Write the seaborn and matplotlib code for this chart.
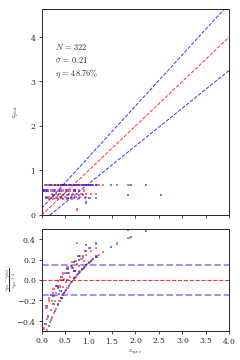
import numpy as np
import pandas as pd
import matplotlib
matplotlib.use("Agg")
import matplotlib.pyplot as plt
import seaborn as sns

# photometric vs spectroscopic redshift
red_zspec = [0.12, 0.18, 0.22, 0.26, 0.30, 0.34, 0.38, 0.42, 0.46, 0.50, 0.55, 0.60, 0.64,
             0.68, 0.72, 0.77, 0.82, 0.87, 0.92, 0.97, 1.02, 1.08, 1.15, 1.22, 1.30, 1.60, 1.85,
             0.05, 0.12, 0.20, 0.28, 0.36, 0.45, 0.52, 0.60, 0.70, 0.80, 0.90,
             0.22, 0.30, 0.38, 0.48, 0.58, 0.66, 0.75, 0.85, 0.95, 1.05, 1.15,
             0.10, 0.16, 0.24, 0.32, 0.40, 0.50, 0.62, 0.72, 0.82, 0.95,
             0.15, 0.25, 0.35, 0.45, 0.55, 0.65, 0.78, 0.75]
red_zphot = [0.67, 0.67, 0.67, 0.67, 0.67, 0.67, 0.67, 0.67, 0.67, 0.67, 0.67, 0.67, 0.67,
             0.67, 0.67, 0.67, 0.67, 0.67, 0.67, 0.67, 0.67, 0.67, 0.67, 0.67, 0.67, 0.67, 0.67,
             0.55, 0.55, 0.55, 0.55, 0.55, 0.55, 0.55, 0.55, 0.55, 0.55, 0.55,
             0.47, 0.47, 0.47, 0.47, 0.47, 0.47, 0.47, 0.47, 0.47, 0.47, 0.47,
             0.40, 0.40, 0.40, 0.40, 0.40, 0.40, 0.40, 0.40, 0.40, 0.40,
             0.36, 0.36, 0.36, 0.36, 0.36, 0.36, 0.36, 0.12]

blue_zspec = [0.08, 0.15, 0.20, 0.28, 0.35, 0.42, 0.48, 0.52, 0.58, 0.63, 0.70, 0.75, 0.80,
              0.86, 0.90, 0.95, 1.00, 1.05, 1.10, 1.17, 1.47, 1.90, 2.22,
              0.02, 0.08, 0.14, 0.25, 0.40, 0.55, 0.70,
              0.25, 0.35, 0.45, 0.55, 0.65, 0.80, 0.88, 1.84, 2.54,
              0.10, 0.20, 0.30, 0.42, 0.55, 0.68, 0.80, 0.92, 1.02, 1.15,
              0.94]
blue_zphot = [0.67, 0.67, 0.67, 0.67, 0.67, 0.67, 0.67, 0.67, 0.67, 0.67, 0.67, 0.67, 0.67,
              0.67, 0.67, 0.67, 0.67, 0.67, 0.67, 0.67, 0.67, 0.67, 0.67,
              0.55, 0.55, 0.55, 0.55, 0.55, 0.55, 0.55,
              0.45, 0.45, 0.45, 0.45, 0.45, 0.45, 0.45, 0.45, 0.45,
              0.38, 0.38, 0.38, 0.38, 0.38, 0.38, 0.38, 0.38, 0.38, 0.38,
              0.28]

n_obj = 322
sigma = 0.21
eta = 48.76

df = pd.concat([
    pd.DataFrame({"zspec": red_zspec, "zphot": red_zphot, "set": "red"}),
    pd.DataFrame({"zspec": blue_zspec, "zphot": blue_zphot, "set": "blue"}),
], ignore_index=True)
df["resid"] = (df["zspec"] - df["zphot"]) / (df["zspec"] + 1)

sns.set_style("ticks")
plt.rcParams["font.family"] = ["DejaVu Serif"]
plt.rcParams["mathtext.fontset"] = "cm"
plt.rcParams["axes.formatter.use_mathtext"] = True
plt.rcParams["font.size"] = 5.5

fig = plt.figure(figsize=(2.4, 3.6), dpi=100)
ax1 = fig.add_axes([0.174, 0.403, 0.781, 0.572])
ax2 = fig.add_axes([0.174, 0.081, 0.781, 0.283])

palette = {"red": "red", "blue": "blue"}
xx = np.linspace(0, 4, 50)

# top: zphot vs zspec
ax1.plot(xx, xx, "r--", lw=0.7, alpha=0.8)
ax1.plot(xx, xx + 0.15 * (1 + xx), "b--", lw=0.7, alpha=0.8)
ax1.plot(xx, xx - 0.15 * (1 + xx), "b--", lw=0.7, alpha=0.8)
sns.scatterplot(data=df, x="zspec", y="zphot", hue="set", palette=palette, marker="s",
                s=2.5, linewidth=0, alpha=0.55, legend=False, ax=ax1)
ax1.set_xlim(0, 4)
ax1.set_ylim(0, 4.63)
ax1.set_xticks(np.arange(0, 4.01, 0.5))
ax1.set_xticklabels([])
ax1.set_yticks([0, 1, 2, 3, 4])
ax1.set_xlabel("")
ax1.set_ylabel(r"$z_{phot}$", fontsize=5, labelpad=6)
ax1.text(0.28, 3.78, r"$N\,=\,%d$" % n_obj, fontsize=6, va="center")
ax1.text(0.28, 3.48, r"$\sigma\,=\,%.2f$" % sigma, fontsize=6, va="center")
ax1.text(0.28, 3.18, r"$\eta\,=\,%.2f\%%$" % eta, fontsize=6, va="center")

# bottom: normalised residual
ax2.axhline(0, color="red", ls="--", lw=0.8, alpha=0.8)
ax2.axhline(0.15, color="blue", ls="--", lw=1.3, alpha=0.45)
ax2.axhline(-0.15, color="blue", ls="--", lw=1.3, alpha=0.45)
sns.scatterplot(data=df, x="zspec", y="resid", hue="set", palette=palette, marker="s",
                s=2.5, linewidth=0, alpha=0.55, legend=False, ax=ax2)
ax2.set_xlim(0, 4)
ax2.set_ylim(-0.5, 0.5)
ax2.set_xticks(np.arange(0, 4.01, 0.5))
ax2.set_yticks([-0.4, -0.2, 0.0, 0.2, 0.4])
ax2.set_xlabel(r"$z_{spec}$", fontsize=5, labelpad=1)
ax2.set_ylabel(r"$\frac{z_{spec}-z_{phot}}{z_{spec}+1}$", fontsize=4.8)
ax2.yaxis.set_label_coords(-0.115, 0.5)

for ax in (ax1, ax2):
    ax.tick_params(labelsize=5.5, length=2.5, width=0.6, pad=1.5)
    for sp in ax.spines.values():
        sp.set_linewidth(0.7)

fig.savefig("out.png", dpi=100)
